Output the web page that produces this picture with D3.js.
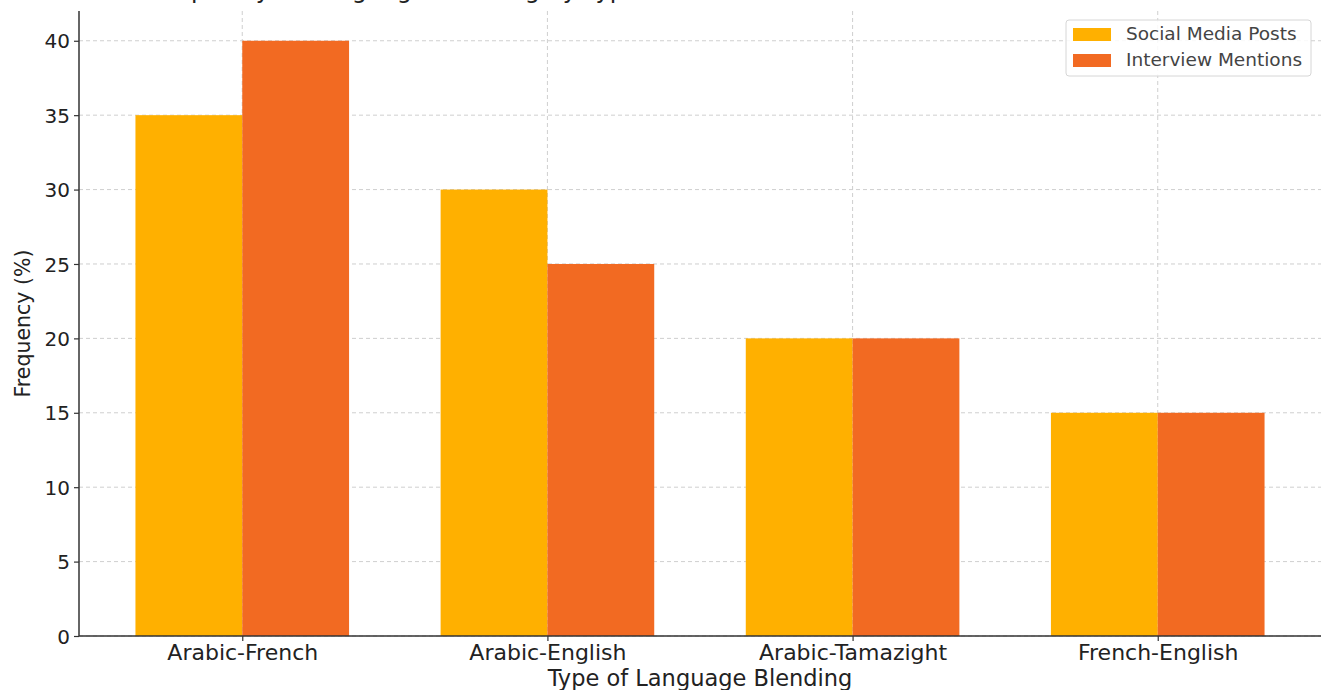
<!DOCTYPE html>
<html>
<head>
<meta charset="utf-8">
<script src="https://cdn.jsdelivr.net/npm/d3@7"></script>
<style>
    body { margin: 0; background: #fff; }
    svg { display: block; }
</style>
</head>
<body>
<div id="chart_container"></div>
<script>
const categories = ['Arabic-French', 'Arabic-English', 'Arabic-Tamazight', 'French-English'];
const socialMedia = [35, 30, 20, 15];
const interviews = [40, 25, 20, 15];
const seriesNames = ['Social Media Posts', 'Interview Mentions'];
const seriesColors = ['#FFB000', '#F26A22'];
const yTicks = [0, 5, 10, 15, 20, 25, 30, 35, 40];

const W = 1327, H = 690;
const margin = { left: 79, right: 6, top: 11, bottom: 54 };
const pw = W - margin.left - margin.right;
const ph = H - margin.top - margin.bottom;
const font = 'DejaVu Sans';

var svg = d3.select('#chart_container')
    .append('svg')
    .attr('width', W)
    .attr('height', H);

// title sits above the visible area, only descenders peek in
svg.append('text')
    .attr('x', 146)
    .attr('y', -2)
    .attr('font-family', font)
    .attr('font-size', '24px')
    .attr('fill', '#222')
    .text('Frequency of Language Blending by Type');

var g = svg.append('g')
    .attr('transform', 'translate(' + margin.left + ', ' + margin.top + ')');

// bar positions: category index with +-0.35/2 offsets, matplotlib style margins
const barW = 0.35;
var x = d3.scaleLinear()
    .domain([-0.535, categories.length - 1 + 0.535])
    .range([0, pw]);
var y = d3.scaleLinear()
    .domain([0, 42])
    .range([ph, 0]);

// grid
g.selectAll('.hgrid')
    .data(yTicks)
    .enter()
    .append('line')
    .attr('class', 'hgrid')
    .attr('x1', 0)
    .attr('x2', pw)
    .attr('y1', d => y(d))
    .attr('y2', d => y(d))
    .attr('stroke', '#cfcfcf')
    .attr('stroke-width', 1)
    .attr('stroke-dasharray', '4,3');

g.selectAll('.vgrid')
    .data(categories)
    .enter()
    .append('line')
    .attr('class', 'vgrid')
    .attr('x1', (d, i) => x(i))
    .attr('x2', (d, i) => x(i))
    .attr('y1', 0)
    .attr('y2', ph)
    .attr('stroke', '#cfcfcf')
    .attr('stroke-width', 1)
    .attr('stroke-dasharray', '4,3');

// bars
const series = [socialMedia, interviews];
series.forEach(function(vals, s) {
    g.selectAll('.bar' + s)
        .data(vals)
        .enter()
        .append('rect')
        .attr('class', 'bar' + s)
        .attr('x', (d, i) => x(i + (s === 0 ? -barW : 0)))
        .attr('width', x(barW) - x(0))
        .attr('y', d => y(d))
        .attr('height', d => y(0) - y(d))
        .attr('fill', seriesColors[s]);
});

// axes
var xAxis = g.append('g')
    .attr('transform', 'translate(0,' + ph + ')')
    .call(d3.axisBottom(x)
        .tickValues(d3.range(categories.length))
        .tickFormat(i => categories[i])
        .tickSize(5)
        .tickPadding(3));

var yAxis = g.append('g')
    .call(d3.axisLeft(y)
        .tickValues(yTicks)
        .tickSize(5)
        .tickPadding(4));

[xAxis, yAxis].forEach(function(a) {
    a.select('.domain').remove();
    a.selectAll('.tick line').attr('stroke', '#333').attr('stroke-width', 1.2);
    a.selectAll('.tick text')
        .attr('font-family', font)
        .attr('fill', '#222');
});
xAxis.selectAll('.tick text').attr('font-size', '22px');
yAxis.selectAll('.tick text').attr('font-size', '20px').attr('dy', '0.36em');

// spines
g.append('line')
    .attr('x1', 0).attr('x2', 0)
    .attr('y1', 0).attr('y2', ph)
    .attr('stroke', '#333').attr('stroke-width', 1.5);
g.append('line')
    .attr('x1', 0).attr('x2', pw)
    .attr('y1', ph).attr('y2', ph)
    .attr('stroke', '#333').attr('stroke-width', 1.5);

// axis titles
svg.append('text')
    .attr('x', margin.left + pw / 2)
    .attr('y', 686)
    .attr('text-anchor', 'middle')
    .attr('font-family', font)
    .attr('font-size', '22.5px')
    .attr('fill', '#222')
    .text('Type of Language Blending');

svg.append('text')
    .attr('transform', 'translate(30, ' + (margin.top + ph / 2) + ') rotate(-90)')
    .attr('text-anchor', 'middle')
    .attr('font-family', font)
    .attr('font-size', '20.5px')
    .attr('fill', '#222')
    .text('Frequency (%)');

// legend
var legend = svg.append('g')
    .attr('transform', 'translate(1066, 20)');

legend.append('rect')
    .attr('x', 0)
    .attr('y', 0)
    .attr('width', 245)
    .attr('height', 56)
    .attr('rx', 3)
    .attr('fill', 'white')
    .attr('fill-opacity', 0.85)
    .attr('stroke', '#d6d6d6');

seriesNames.forEach(function(name, i) {
    legend.append('rect')
        .attr('x', 7)
        .attr('y', 8 + i * 26)
        .attr('width', 38)
        .attr('height', 13)
        .attr('fill', seriesColors[i]);
    legend.append('text')
        .attr('x', 60)
        .attr('y', 14.5 + i * 26)
        .attr('dominant-baseline', 'middle')
        .attr('font-family', font)
        .attr('font-size', '18.5px')
        .attr('fill', '#444')
        .text(name);
});
</script>
</body>
</html>
